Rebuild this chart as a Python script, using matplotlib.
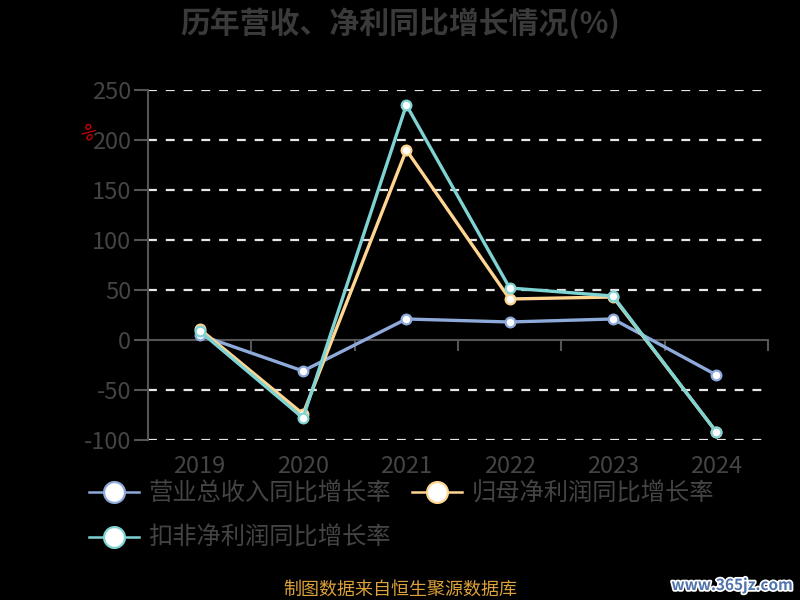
import matplotlib

matplotlib.use("Agg")
import matplotlib.pyplot as plt
import matplotlib.patheffects as pe
from matplotlib.transforms import blended_transform_factory

plt.rcParams["font.family"] = ["Noto Sans CJK SC", "DejaVu Sans"]

years = ["2019", "2020", "2021", "2022", "2023", "2024"]
revenue_yoy = [5, -31, 21, 18, 21, -35]          # 营业总收入同比增长率
parent_np_yoy = [11, -74, 190, 41, 43, -92]      # 归母净利润同比增长率
deducted_np_yoy = [9, -78, 235, 52, 44, -92]     # 扣非净利润同比增长率
series_names = ["营业总收入同比增长率", "归母净利润同比增长率", "扣非净利润同比增长率"]
y_ticks = [-100, -50, 0, 50, 100, 150, 200, 250]

colors = ["#8eaadb", "#ffd591", "#7fd3d3"]
TXT = "#444444"

fig = plt.figure(figsize=(8, 6), dpi=100, facecolor="black")
ax = fig.add_axes([0.185, 0.2667, 0.775, 0.5833], facecolor="black")

x = list(range(len(years)))
handles = []
for vals, c, name in zip([revenue_yoy, parent_np_yoy, deducted_np_yoy], colors, series_names):
    ax.plot(x, vals, color=c, lw=2.4, marker="o", ms=7, mfc="white", mec=c, mew=1.6,
            zorder=3)
    h, = ax.plot([], [], color=c, lw=1.8, marker="o", ms=15, mfc="white", mec=c, mew=1.6)
    h.set_label(name)
    handles.append(h)

ax.set_xlim(-0.5, len(years) - 0.5)
ax.set_ylim(-100, 250)

# dashed grid (not at zero, the axis line sits there)
for t in y_ticks:
    if t != 0:
        ax.axhline(t, color="#e6e6e6", lw=1.6, ls=(0, (4, 4)), zorder=1)

for s in ["top", "right"]:
    ax.spines[s].set_visible(False)
ax.spines["left"].set_color("#555555")
ax.spines["left"].set_linewidth(1.5)
ax.spines["bottom"].set_position(("data", 0))
ax.spines["bottom"].set_color("#555555")
ax.spines["bottom"].set_linewidth(1.5)

ax.set_yticks(y_ticks)
ax.set_yticklabels([str(t) for t in y_ticks], fontweight="light")
ax.tick_params(axis="y", colors="#555555", labelcolor=TXT, labelsize=17, length=10,
               width=1.5, pad=2)

ax.set_xticks(x)
ax.set_xticks([i - 0.5 for i in range(len(years) + 1)], minor=True)
ax.tick_params(axis="x", which="major", length=0, labelbottom=False)
ax.tick_params(axis="x", which="minor", length=8, width=1.5, colors="#555555")

trans = blended_transform_factory(ax.transData, ax.transAxes)
for i, yr in enumerate(years):
    ax.text(i, -0.075, yr, transform=trans, ha="center", va="center",
            color=TXT, fontsize=17, fontweight="light")

ax.text(-0.10, 0.877, "%", transform=ax.transAxes, color="#dd0000", fontsize=12,
        rotation=-45, ha="center", va="center", family="DejaVu Sans")

fig.text(0.5, 0.962, "历年营收、净利同比增长情况(%)", ha="center", va="center",
         color="#3a3a3a", fontsize=21.5, fontweight="bold")

# column-wise fill: col1 = 营业, 扣非 ; col2 = 归母
leg_handles = [handles[0], handles[2], handles[1]]
fig.legend(handles=leg_handles, loc="upper left", bbox_to_anchor=(0.084, 0.235),
           ncol=2, frameon=False, labelcolor=TXT,
           handlelength=2.05, handletextpad=0.4, columnspacing=0.87,
           labelspacing=0.75, prop={"weight": "light", "size": 17.5})

fig.text(0.5, 0.017, "制图数据来自恒生聚源数据库", ha="center", va="center",
         color="#dca13a", fontsize=13)
fig.text(0.915, 0.025, "www.365jz.com", ha="center", va="center", color="#4f73aa",
         fontsize=11, fontweight="bold",
         path_effects=[pe.withStroke(linewidth=2.5, foreground="white")])

fig.savefig("out.png", dpi=100, facecolor="black")
